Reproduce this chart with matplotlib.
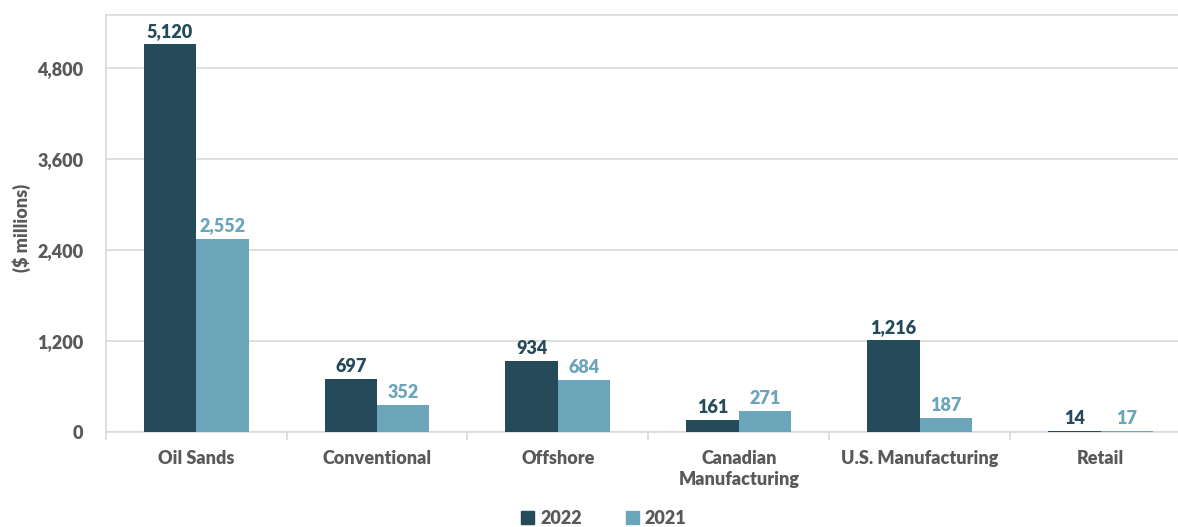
import matplotlib
matplotlib.use("Agg")
import matplotlib.pyplot as plt
import numpy as np
from matplotlib.patches import Patch
from matplotlib.ticker import FuncFormatter, FixedLocator

categories = ["Oil Sands", "Conventional", "Offshore", "Canadian\nManufacturing", "U.S. Manufacturing", "Retail"]
values_2022 = [5120, 697, 934, 161, 1216, 14]
values_2021 = [2552, 352, 684, 271, 187, 17]
series_names = ["2022", "2021"]
y_ticks = [0, 1200, 2400, 3600, 4800]

dark = "#254B5A"
light = "#6AA5B9"
gray_text = "#595959"
grid_col = "#D9D9D9"

WT = 'heavy'
plt.rcParams['font.family'] = ['Lato', 'DejaVu Sans']
plt.rcParams['font.weight'] = WT
FS = 13

W, H = 1178, 527
fig = plt.figure(figsize=(W / 100, H / 100), dpi=100)
left, right, top, bottom = 105.7, 1191, 15, 432
ax = fig.add_axes([left / W, (H - bottom) / H, (right - left) / W, (bottom - top) / H])

x = np.arange(len(categories))
bw = 0.29
b1 = ax.bar(x - bw / 2, values_2022, bw, color=dark, label=series_names[0], zorder=3)
b2 = ax.bar(x + bw / 2, values_2021, bw, color=light, label=series_names[1], zorder=3)

for bars, col in ((b1, dark), (b2, light)):
    ax.bar_label(bars, labels=[f"{v:,}" for v in bars.datavalues], padding=3,
                 color=col, fontsize=FS, fontweight=WT)

ax.set_xlim(-0.5, len(categories) - 0.5)
ax.set_ylim(0, 5500)
ax.set_yticks(y_ticks)
ax.yaxis.set_major_formatter(FuncFormatter(lambda v, p: f"{int(v):,}"))
ax.grid(axis='y', color=grid_col, linewidth=1.2, zorder=0)
ax.set_axisbelow(True)

ax.set_xticks(x)
ax.set_xticklabels(categories, fontsize=FS, fontweight=WT, color=gray_text, linespacing=1.3)
ax.xaxis.set_minor_locator(FixedLocator(np.arange(len(categories) + 1) - 0.5))
ax.tick_params(axis='x', which='major', length=0, pad=13)
ax.tick_params(axis='x', which='minor', length=6, color=grid_col, width=1.2)
ax.tick_params(axis='y', length=0, pad=16, labelsize=FS, labelcolor=gray_text)
for lab in ax.get_yticklabels():
    lab.set_fontweight(WT)

for s in ['left', 'bottom', 'top']:
    ax.spines[s].set_color(grid_col)
    ax.spines[s].set_linewidth(1.2)
ax.spines['right'].set_visible(False)

ax.set_ylabel("($ millions)", fontsize=FS, fontweight=WT, color=gray_text)
ax.yaxis.set_label_coords((31 - left) / (right - left), 0.49)

handles = [Patch(color=dark), Patch(color=light)]
fig.legend(handles, series_names, loc='center', bbox_to_anchor=(604 / W, 1 - 518 / H),
           ncol=2, frameon=False, handlelength=0.72, handleheight=0.72,
           columnspacing=2.4, handletextpad=0.35, labelcolor=gray_text,
           prop={'weight': WT, 'size': FS})

fig.savefig("out.png", dpi=100)
